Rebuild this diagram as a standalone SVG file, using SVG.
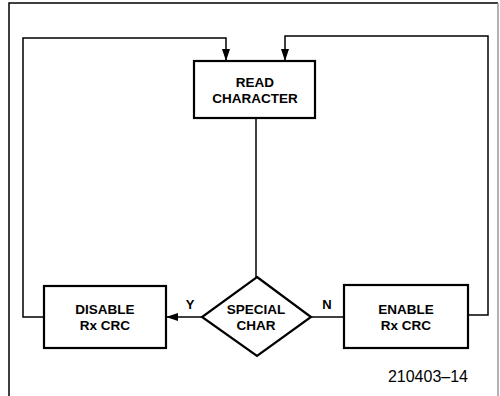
<svg xmlns="http://www.w3.org/2000/svg" width="500" height="396" viewBox="0 0 500 396">
<defs>
<style>
.box{fill:#fff;stroke:#000;stroke-width:2.2}
.ln{fill:none;stroke:#000;stroke-width:1.5}
.t{font-family:"Liberation Sans",Arial,sans-serif;font-weight:bold;font-size:13.5px;text-anchor:middle;fill:#000}
.lbl{font-family:"Liberation Sans",Arial,sans-serif;font-weight:bold;font-size:13px;text-anchor:middle;fill:#000}
.fig{font-family:"Liberation Sans",Arial,sans-serif;font-size:16px;text-anchor:end;fill:#000}
</style>
<marker id="ah" markerWidth="12" markerHeight="8" refX="12" refY="4" orient="auto" markerUnits="userSpaceOnUse">
<path d="M0,0 L12,4 L0,8 Z" fill="#000"/>
</marker>
</defs>
<rect width="500" height="396" fill="#fff"/>
<g id="frame">
<path d="M9,396 V3 H498" class="ln"/>
<path d="M498,3 V396" fill="none" stroke="#999" stroke-width="1.5"/>
</g>
<g id="connectors">
<path d="M256,118 V277" class="ln"/>
<path d="M202,317 H166" class="ln" marker-end="url(#ah)"/>
<path d="M311,317 H344" class="ln"/>
<path d="M44,317 H23 V38 H226 V61" class="ln" marker-end="url(#ah)"/>
<path d="M468,315 H488 V36 H285 V61" class="ln" marker-end="url(#ah)"/>
</g>
<g id="read">
<rect x="194" y="61" width="121" height="57" class="box"/>
<text x="255" y="87" class="t">READ</text>
<text x="255" y="103" class="t">CHARACTER</text>
</g>
<g id="special">
<path d="M257,277 L311,317 L257,356 L202,317 Z" class="box"/>
<text x="256" y="314" class="t">SPECIAL</text>
<text x="256" y="330" class="t">CHAR</text>
</g>
<g id="disable">
<rect x="44" y="286" width="122" height="62" class="box"/>
<text x="105" y="314" class="t">DISABLE</text>
<text x="105" y="330" class="t">Rx CRC</text>
</g>
<g id="enable">
<rect x="344" y="285" width="124" height="63" class="box"/>
<text x="406" y="314" class="t">ENABLE</text>
<text x="406" y="330" class="t">Rx CRC</text>
</g>
<g id="labels">
<text x="190" y="309" class="lbl">Y</text>
<text x="327" y="309" class="lbl">N</text>
<text x="468" y="382" class="fig">210403–14</text>
</g>
</svg>
